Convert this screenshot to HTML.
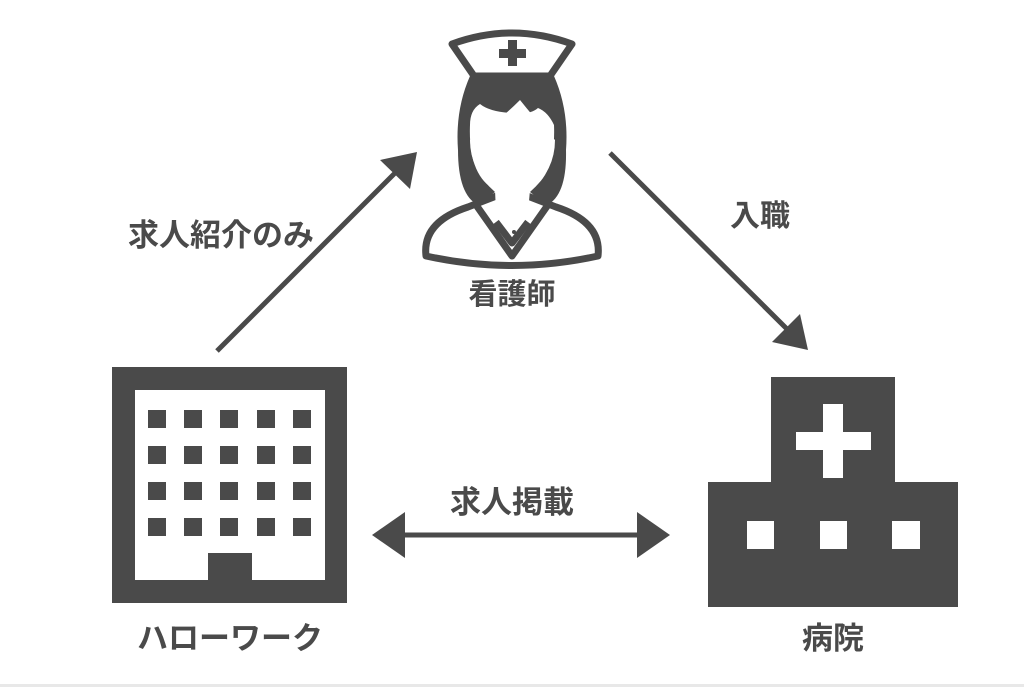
<!DOCTYPE html>
<html><head><meta charset="utf-8"><style>
html,body{margin:0;padding:0;background:#fff;}
svg{display:block;}
text{font-family:"Liberation Sans","Noto Sans CJK JP",sans-serif;font-weight:bold;fill:#4a4a4a;}
</style></head><body>
<svg width="1024" height="687" viewBox="0 0 1024 687" xmlns="http://www.w3.org/2000/svg">
<rect width="1024" height="687" fill="#fff"/>
<g fill="#4a4a4a" stroke="none">
<path d="M112 367H347V603H112Z M135 390V580H208V553H252V580H325V390Z" fill-rule="evenodd"/>
<g id="r"><rect x="148" y="410" width="18" height="18"/><rect x="184" y="410" width="18" height="18"/><rect x="220" y="410" width="18" height="18"/><rect x="257" y="410" width="18" height="18"/><rect x="293" y="410" width="18" height="18"/></g>
<use href="#r" y="36"/><use href="#r" y="72"/><use href="#r" y="108"/>
<path d="M771 377H895V482H958V607H708V482H771Z M823 404V432H796V450H823V478H843V450H871V432H843V404Z M747 521V549H774V521Z M820 521V549H847V521Z M892 521V549H920V521Z" fill-rule="evenodd"/>
</g>
<g stroke="#4a4a4a" stroke-width="5" fill="none">
<line x1="217" y1="351" x2="400" y2="168"/>
<line x1="610" y1="153" x2="792" y2="334"/>
<line x1="400" y1="535" x2="645" y2="535"/>
</g>
<g fill="#4a4a4a">
<polygon points="417,152 380,160 410,189"/>
<polygon points="808,350 800,314 772,342"/>
<polygon points="372,535 405,512 405,558"/>
<polygon points="670,535 637,512 637,558"/>
</g>
<!-- nurse -->
<g stroke="#4a4a4a" stroke-width="7" fill="none" stroke-linejoin="round">
<path d="M452 44 Q512 22 572 44 L550 76 H474 Z" fill="#fff"/>
<path d="M426 256 Q422 222 468 207 L512 190 L556 207 Q602 222 598 256 Q512 275 426 256 Z" fill="#fff"/>
<path d="M474 202 L512 256 L550 202"/>
<path d="M496 222 L512 243 L528 222"/>
</g>
<g fill="#4a4a4a">
<rect x="508" y="40" width="9" height="26"/><rect x="499" y="49" width="27" height="9"/>
<path d="M470 76 Q455 110 458 150 Q458 195 478 205 L495 192 Q470 170 470 140 Q495 125 520 100 Q540 125 555 140 Q555 170 530 192 L547 205 Q567 195 566 150 Q569 110 554 76 Z"/>
</g>
<path d="M470 125 Q468 175 495 190 Q512 200 530 190 Q556 175 554 125 Q548 112 538 108 Q530 115 512 113 Q490 112 480 104 Q470 110 470 125Z" fill="#fff"/>
<path d="M495 190 L496 212 L512 222 L528 212 L530 190" fill="#fff"/>
<circle cx="514" cy="232" r="2" fill="#4a4a4a"/>
<text x="221" y="246" font-size="31" text-anchor="middle">求人紹介のみ</text>
<text x="760" y="226" font-size="30" text-anchor="middle">入職</text>
<text x="512" y="304" font-size="29" text-anchor="middle">看護師</text>
<text x="512" y="513" font-size="31" text-anchor="middle">求人掲載</text>
<text x="230" y="649" font-size="31" text-anchor="middle">ハローワーク</text>
<text x="833" y="649" font-size="31" text-anchor="middle">病院</text>
<rect x="0" y="684" width="1024" height="3" fill="#e8e8e8"/>
</svg>
</body></html>
